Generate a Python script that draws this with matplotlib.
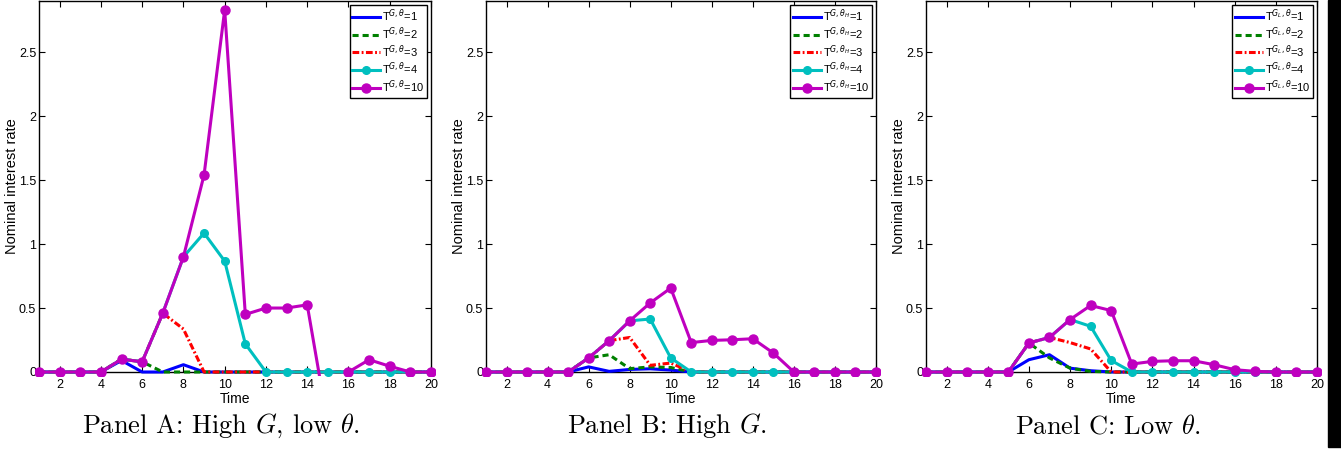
import matplotlib
matplotlib.use("Agg")
import matplotlib.pyplot as plt
from matplotlib.patches import Rectangle
import numpy as np

plt.rcParams['font.family'] = ['Liberation Sans', 'DejaVu Sans']

time = list(range(1, 21))

# Panel A: High G, low theta
a_t1 = [0, 0, 0, 0, 0.09, 0, 0, 0.057, 0, 0, 0, 0, 0, 0, 0, 0, 0, 0, 0, 0]
a_t2 = [0, 0, 0, 0, 0.10, 0.08, 0, 0, 0, 0, 0, 0, 0, 0, 0, 0, 0, 0, 0, 0]
a_t3 = [0, 0, 0, 0, 0.10, 0.08, 0.46, 0.336, 0, 0, 0, 0, 0, 0, 0, 0, 0, 0, 0, 0]
a_t4 = [0, 0, 0, 0, 0.10, 0.08, 0.46, 0.90, 1.086, 0.867, 0.22, 0, 0, 0, 0, 0, 0, 0, 0, 0]
a_t10 = [0, 0, 0, 0, 0.10, 0.08, 0.46, 0.90, 1.54, 2.83, 0.45, 0.50, 0.50, 0.525,
         -0.41, 0, 0.096, 0.045, 0, 0]

# Panel B: High G
b_t1 = [0, 0, 0, 0, 0, 0.04, 0.005, 0.02, 0.025, 0.015, 0, 0, 0, 0, 0, 0, 0, 0, 0, 0]
b_t2 = [0, 0, 0, 0, 0, 0.11, 0.135, 0.026, 0.04, 0.035, 0, 0, 0, 0, 0, 0, 0, 0, 0, 0]
b_t3 = [0, 0, 0, 0, 0, 0.11, 0.245, 0.27, 0.052, 0.07, 0, 0, 0, 0, 0, 0, 0, 0, 0, 0]
b_t4 = [0, 0, 0, 0, 0, 0.11, 0.245, 0.40, 0.414, 0.11, 0, 0, 0, 0, 0, 0, 0, 0, 0, 0]
b_t10 = [0, 0, 0, 0, 0, 0.11, 0.245, 0.40, 0.54, 0.656, 0.23, 0.247, 0.252, 0.26,
         0.148, 0, 0, 0, 0, 0]

# Panel C: Low theta
c_t1 = [0, 0, 0, 0, 0, 0.096, 0.135, 0.03, 0.01, 0, 0, 0, 0, 0, 0, 0, 0, 0, 0, 0]
c_t2 = [0, 0, 0, 0, 0, 0.227, 0.11, 0.03, 0.005, 0, 0, 0, 0, 0, 0, 0, 0, 0, 0, 0]
c_t3 = [0, 0, 0, 0, 0, 0.227, 0.27, 0.23, 0.18, 0, 0, 0, 0, 0, 0, 0, 0, 0, 0, 0]
c_t4 = [0, 0, 0, 0, 0, 0.227, 0.27, 0.41, 0.357, 0.09, 0, 0, 0, 0, 0, 0, 0, 0, 0, 0]
c_t10 = [0, 0, 0, 0, 0, 0.227, 0.27, 0.41, 0.52, 0.48, 0.062, 0.083, 0.088, 0.088,
         0.057, 0.018, 0.005, 0, 0, 0]

horizons = ['1', '2', '3', '4', '10']
sup_labels = [r'T$^{G,\theta}$', r'T$^{G,\theta_H}$', r'T$^{G_L,\theta}$']
captions = [r'Panel A: High $G$, low $\theta$.',
            r'Panel B: High $G$.',
            r'Panel C: Low $\theta$.']
panels = [[a_t1, a_t2, a_t3, a_t4, a_t10],
          [b_t1, b_t2, b_t3, b_t4, b_t10],
          [c_t1, c_t2, c_t3, c_t4, c_t10]]

styles = [dict(color='#0000ff', ls='-'),
          dict(color='#008000', dashes=(2.0, 1.3)),
          dict(color='#ff0000', dashes=(2.2, 0.8, 0.6, 0.8)),
          dict(color='#00bfbf', ls='-', marker='o', ms=5.5),
          dict(color='#bf00bf', ls='-', marker='o', ms=6.5)]

W, H = 1341, 451
fig = plt.figure(figsize=(W / 100, H / 100), dpi=100)

lefts = [39, 486, 926]
widths = [392, 390, 391]
top_px, bot_px = 1, 372

for i in range(3):
    ax = fig.add_axes([lefts[i] / W, (H - bot_px) / H, widths[i] / W, (bot_px - top_px) / H])
    clip = Rectangle((-0.01, -0.012), 1.02, 1.03, transform=ax.transAxes, visible=False)
    ax.add_patch(clip)
    for j, series in enumerate(panels[i]):
        ln, = ax.plot(time, series, lw=2.2, zorder=3,
                      label=sup_labels[i] + '=' + horizons[j], **styles[j])
        ln.set_clip_path(clip)
    ax.set_xlim(1, 20)
    ax.set_ylim(0, 2.9)
    ax.set_xticks(range(2, 21, 2))
    ax.set_yticks([0, 0.5, 1, 1.5, 2, 2.5])
    ax.set_yticklabels(['0', '0.5', '1', '1.5', '2', '2.5'])
    ax.tick_params(direction='in', top=True, right=True, length=4, labelsize=9, pad=2)
    ax.tick_params(axis='x', pad=5)
    for s in ax.spines.values():
        s.set_linewidth(1.0)
    ax.set_xlabel('Time', fontsize=10, labelpad=1)
    ax.set_ylabel('Nominal interest rate', fontsize=10.5, labelpad=0)
    leg = ax.legend(loc='upper right', fontsize=8, handlelength=2.5, handletextpad=0.15,
                    labelspacing=0.1, borderpad=0.25, borderaxespad=0.35,
                    fancybox=False, framealpha=1)
    leg.get_frame().set_edgecolor('black')
    leg.get_frame().set_linewidth(1.0)
    cx = (lefts[i] + widths[i] / 2 - 14) / W
    fig.text(cx, 1 - 426 / H, captions[i], ha='center', va='center', fontsize=19,
             family='cmr10', math_fontfamily='cm')

# black strip at the right edge
fig.patches.append(Rectangle((1328 / W, 1 - 447 / H), 13 / W, 447 / H,
                             transform=fig.transFigure, color='black', zorder=0))

fig.savefig('out.png', dpi=100)
